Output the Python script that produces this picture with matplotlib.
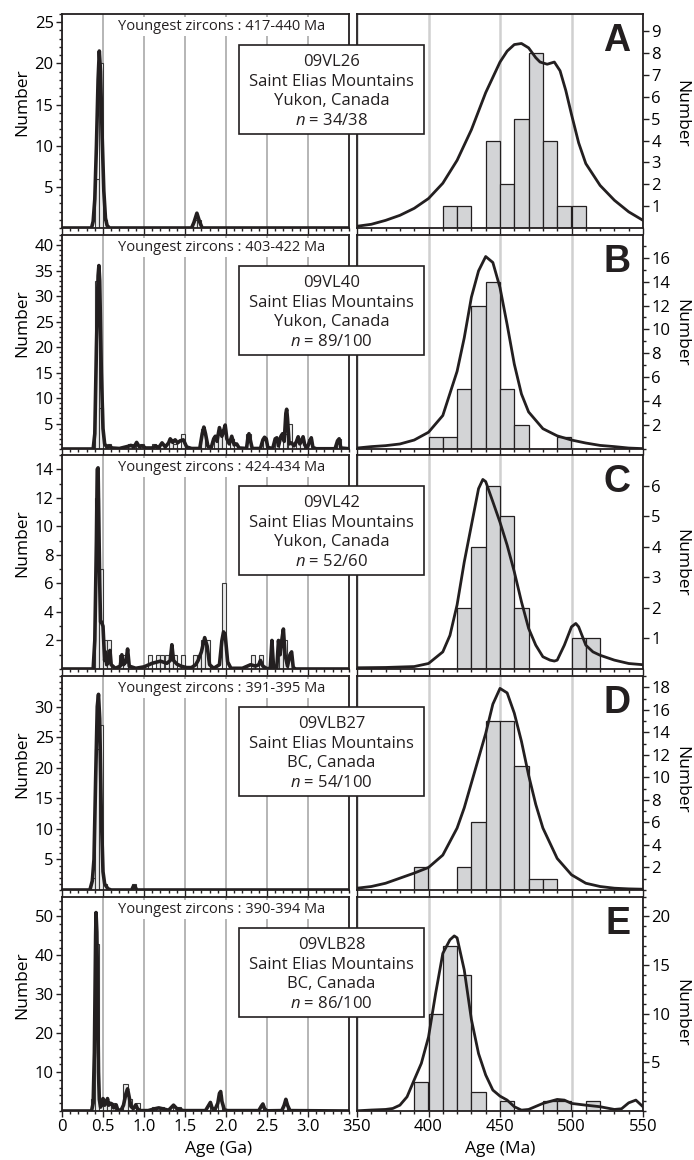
import matplotlib.pyplot as plt
from matplotlib.patches import Rectangle
from matplotlib.ticker import MultipleLocator, NullLocator

plt.rcParams['font.family'] = 'Open Sans'
plt.rcParams['mathtext.fontset'] = 'custom'
plt.rcParams['mathtext.it'] = 'Open Sans:italic'
plt.rcParams['mathtext.rm'] = 'Open Sans'

## ---------------------------------------------------------------- sample info
samples = ['09VL26', '09VL40', '09VL42', '09VLB27', '09VLB28']
regions = ['Yukon, Canada', 'Yukon, Canada', 'Yukon, Canada', 'BC, Canada', 'BC, Canada']
n_used = ['34/38', '89/100', '52/60', '54/100', '86/100']
youngest = ['417-440', '403-422', '424-434', '391-395', '390-394']
letters = ['A', 'B', 'C', 'D', 'E']

## ---------------------------------------------------------------- left panels (Ga), 50 Ma bins
a_left_bins = [0.40, 0.45, 0.50, 1.60, 1.65]
a_left_counts = [6, 20, 1, 1, 1]
a_left_x = [0, 0.36, 0.38, 0.40, 0.42, 0.44, 0.455, 0.47, 0.49, 0.51, 0.53, 0.55, 0.58,
            1.58, 1.61, 1.645, 1.68, 1.71, 3.5]
a_left_y = [0, 0, 0.8, 3.5, 10, 18, 21.5, 19, 11, 4.5, 1.2, 0.3, 0,
            0, 0.7, 1.8, 0.7, 0, 0]

b_left_bins = [0.40, 0.45, 0.55, 0.80, 0.85, 0.95, 1.10, 1.20, 1.30, 1.35, 1.45, 1.70, 1.85,
               1.90, 1.95, 2.05, 2.25, 2.45, 2.60, 2.70, 2.75, 2.85, 2.90, 3.00, 3.35]
b_left_counts = [33, 8, 1, 1, 1, 1, 1, 1, 2, 1, 3, 4, 2, 3, 4, 2, 3, 2, 2, 3, 5, 2, 2, 2, 2]
b_left_x = [0, 0.38, 0.40, 0.42, 0.44, 0.45, 0.46, 0.48, 0.50, 0.52, 0.55, 0.58, 0.61, 0.70,
            0.80, 0.84, 0.88, 0.91, 0.94, 0.98, 1.02, 1.10, 1.14, 1.18, 1.22, 1.26, 1.30,
            1.32, 1.35, 1.38, 1.41, 1.44, 1.48, 1.52, 1.58, 1.68, 1.71, 1.73, 1.75, 1.78,
            1.82, 1.85, 1.87, 1.89, 1.92, 1.95, 1.97, 1.99, 2.01, 2.04, 2.07, 2.10, 2.13,
            2.16, 2.25, 2.27, 2.28, 2.30, 2.32, 2.42, 2.45, 2.47, 2.49, 2.51, 2.57, 2.60,
            2.62, 2.64, 2.67, 2.69, 2.71, 2.73, 2.74, 2.75, 2.77, 2.80, 2.83, 2.86, 2.88,
            2.90, 2.92, 2.94, 2.96, 2.99, 3.02, 3.04, 3.06, 3.10, 3.33, 3.36, 3.38, 3.40, 3.5]
b_left_y = [0, 0, 3, 20, 34, 36, 33, 15, 4, 1, 0.3, 0.6, 0.2, 0.1,
            0.5, 0.7, 0.4, 1.3, 0.5, 0.6, 0.2, 0.2, 0.6, 0.3, 1.2, 0.4, 1.2,
            2.0, 1.3, 1.8, 1.2, 1.6, 1.8, 0.4, 0.1, 0.1, 3.0, 4.3, 3.0, 0.5,
            0.3, 2.0, 2.5, 1.5, 4.2, 2.5, 3.5, 4.7, 2.0, 1.0, 2.5, 0.8, 1.0,
            0.2, 0.1, 2.5, 3.0, 1.5, 0.1, 0.1, 1.8, 2.3, 2.0, 0.3, 0.1, 2.0,
            2.2, 0.6, 2.5, 3.0, 1.5, 7.0, 7.8, 6.0, 1.0, 1.2, 0.6, 1.5, 2.4,
            1.0, 1.5, 2.4, 0.8, 0.2, 1.5, 2.2, 0.3, 0.05, 0.05, 1.6, 2.0, 0.2, 0.05]

c_left_bins = [0.40, 0.45, 0.50, 0.55, 0.70, 0.75, 1.05, 1.15, 1.20, 1.25, 1.30, 1.35, 1.45,
               1.60, 1.65, 1.70, 1.75, 1.95, 2.30, 2.40, 2.65, 2.70, 2.75]
c_left_counts = [12, 7, 2, 2, 1, 1, 1, 1, 1, 1, 1, 1, 1, 1, 1, 2, 2, 6, 1, 1, 2, 2, 1]
c_left_x = [0, 0.38, 0.40, 0.42, 0.43, 0.44, 0.45, 0.46, 0.47, 0.48, 0.50, 0.52, 0.53, 0.545,
            0.57, 0.585, 0.60, 0.65, 0.71, 0.73, 0.75, 0.78, 0.80, 0.82, 0.90, 1.00, 1.10,
            1.20, 1.28, 1.32, 1.34, 1.36, 1.40, 1.45, 1.52, 1.58, 1.63, 1.66, 1.70, 1.74,
            1.77, 1.80, 1.85, 1.92, 1.95, 1.97, 1.99, 2.02, 2.06, 2.20, 2.30, 2.36, 2.40,
            2.42, 2.45, 2.50, 2.54, 2.56, 2.58, 2.62, 2.64, 2.66, 2.68, 2.70, 2.72, 2.75,
            2.78, 2.80, 2.82, 2.85, 3.5]
c_left_y = [0, 0, 2, 9, 14, 14.1, 10, 6, 3.3, 3.3, 3.0, 0.6, 1.2, 0.3,
            0.5, 1.3, 0.3, 0.05, 0.2, 1.0, 0.3, 0.5, 1.4, 0.2, 0.05, 0.15, 0.4,
            0.55, 0.4, 0.6, 1.7, 0.6, 0.35, 0.2, 0.1, 0.1, 0.3, 0.6, 1.2, 2.2,
            1.6, 0.3, 0.05, 0.3, 2.0, 2.6, 2.4, 0.5, 0.05, 0.05, 0.3, 0.2, 0.3,
            0.6, 0.2, 0.02, 0.05, 2.0, 0.1, 0.1, 2.0, 1.0, 2.0, 2.8, 1.0, 0.2,
            1.0, 1.2, 0.1, 0, 0]

d_left_bins = [0.35, 0.40, 0.45, 0.50, 0.85]
d_left_counts = [2, 23, 27, 1, 1]
d_left_x = [0, 0.34, 0.37, 0.39, 0.41, 0.43, 0.445, 0.46, 0.48, 0.50, 0.52, 0.54, 0.56, 0.60,
            0.85, 0.87, 0.89, 0.91, 3.5]
d_left_y = [0, 0, 1.5, 5, 18, 30, 32, 28, 12, 3, 1, 0.6, 0.2, 0,
            0, 0.6, 0.6, 0, 0]

e_left_bins = [0.35, 0.40, 0.45, 0.50, 0.55, 0.60, 0.75, 0.80, 0.90, 1.10, 1.15, 1.20, 1.35,
               1.40, 1.80, 1.90, 2.40, 2.70]
e_left_counts = [3, 43, 3, 3, 2, 2, 7, 3, 2, 1, 1, 1, 1, 1, 1, 4, 1, 2]
e_left_x = [0, 0.36, 0.38, 0.395, 0.41, 0.415, 0.425, 0.435, 0.445, 0.455, 0.47, 0.49, 0.50,
            0.52, 0.54, 0.555, 0.57, 0.59, 0.61, 0.63, 0.66, 0.68, 0.72, 0.75, 0.78, 0.80,
            0.82, 0.84, 0.87, 0.90, 0.92, 0.95, 1.05, 1.12, 1.18, 1.24, 1.30, 1.36, 1.40,
            1.44, 1.48, 1.75, 1.79, 1.81, 1.83, 1.86, 1.90, 1.92, 1.935, 1.95, 1.98, 2.02,
            2.40, 2.43, 2.45, 2.47, 2.50, 2.68, 2.71, 2.73, 2.75, 2.78, 3.5]
e_left_y = [0, 0, 2, 15, 45, 51, 46, 30, 10, 3, 1, 2, 3.2,
            1.5, 2, 3.2, 1.5, 2.0, 1.8, 0.8, 1.6, 0.3, 0.2, 1.5, 4.5, 5.7,
            3.5, 1.2, 0.6, 1.6, 0.6, 0.1, 0.1, 0.5, 0.8, 0.5, 0.2, 1.5, 0.6,
            0.4, 0.1, 0.1, 1.5, 2.2, 0.8, 0.1, 2.0, 4.5, 5.0, 2.5, 0.3, 0.1,
            0.1, 1.2, 1.8, 0.6, 0.05, 0.1, 1.5, 3.0, 1.5, 0.1, 0]

## ---------------------------------------------------------------- right panels (Ma), 10 Ma bins
a_right_bins = [410, 420, 440, 450, 460, 470, 480, 490, 500]
a_right_counts = [1, 1, 4, 2, 5, 8, 4, 1, 1]
a_right_x = [350, 360, 370, 380, 390, 400, 410, 420, 430, 440, 450, 455, 460, 465, 470, 475,
             478, 483, 488, 492, 496, 500, 505, 510, 520, 530, 540, 550]
a_right_y = [0.08, 0.17, 0.35, 0.58, 0.9, 1.35, 2.05, 3.1, 4.5, 6.2, 7.6, 8.1, 8.4, 8.45,
             8.25, 7.8, 7.6, 7.5, 7.6, 7.2, 6.3, 5.2, 3.9, 2.95, 1.95, 1.27, 0.74, 0.35]

b_right_bins = [400, 410, 420, 430, 440, 450, 460, 490]
b_right_counts = [1, 1, 5, 12, 14, 5, 2, 1]
b_right_x = [350, 360, 370, 380, 390, 400, 410, 420, 425, 430, 435, 440, 445, 450, 455, 460,
             465, 470, 480, 490, 500, 510, 520, 530, 540, 550]
b_right_y = [0.08, 0.2, 0.28, 0.42, 0.75, 1.4, 2.8, 6.5, 9.3, 12.7, 14.9, 16.1, 15.6, 13.5,
             10.4, 7.1, 4.6, 3.1, 1.7, 1.1, 0.75, 0.5, 0.3, 0.2, 0.08, 0.03]

c_right_bins = [420, 430, 440, 450, 460, 500, 510]
c_right_counts = [2, 4, 6, 5, 2, 1, 1]
c_right_x = [350, 370, 390, 400, 410, 415, 420, 425, 430, 435, 438, 440, 445, 450, 455, 460,
             465, 470, 475, 480, 485, 488, 490, 495, 500, 503, 505, 510, 515, 520, 530, 540, 550]
c_right_y = [0.04, 0.05, 0.08, 0.18, 0.56, 1.1, 2.1, 3.5, 4.7, 5.9, 6.2, 6.13, 5.47, 4.8,
             4.05, 3.18, 2.2, 1.33, 0.78, 0.4, 0.29, 0.26, 0.29, 0.78, 1.38, 1.49, 1.38,
             0.78, 0.56, 0.45, 0.29, 0.18, 0.14]

d_right_bins = [390, 420, 430, 440, 450, 460, 470, 480]
d_right_counts = [2, 2, 6, 15, 15, 11, 1, 1]
d_right_x = [350, 360, 370, 380, 390, 400, 410, 420, 425, 430, 435, 440, 445, 450, 455, 460,
             465, 470, 475, 480, 490, 500, 510, 520, 530, 540, 550]
d_right_y = [0.16, 0.31, 0.6, 1.05, 1.5, 2.0, 3.1, 5.5, 7.3, 9.5, 11.7, 13.9, 16.5, 17.9,
             17.5, 15.7, 13.2, 10.2, 7.6, 5.5, 2.8, 1.35, 0.6, 0.31, 0.16, 0.1, 0.07]

e_right_bins = [390, 400, 410, 420, 430, 450, 480, 490, 510]
e_right_counts = [3, 10, 17, 14, 2, 1, 1, 1, 1]
e_right_x = [350, 360, 370, 375, 380, 385, 390, 395, 400, 405, 410, 415, 418, 420, 425, 430,
             435, 440, 445, 450, 455, 460, 465, 470, 480, 490, 495, 500, 510, 520, 530, 535,
             540, 545, 550]
e_right_y = [0.02, 0.1, 0.16, 0.26, 0.6, 1.46, 3.2, 4.9, 7.6, 12.1, 16.2, 17.6, 18.0, 17.8,
             14.5, 9.4, 5.9, 3.7, 2.15, 1.53, 1.12, 0.44, 0.09, 0.16, 0.78, 1.19, 1.12,
             0.78, 0.6, 0.44, 0.16, 0.23, 0.84, 1.12, 0.44]

left_bins = [a_left_bins, b_left_bins, c_left_bins, d_left_bins, e_left_bins]
left_counts = [a_left_counts, b_left_counts, c_left_counts, d_left_counts, e_left_counts]
left_x = [a_left_x, b_left_x, c_left_x, d_left_x, e_left_x]
left_y = [a_left_y, b_left_y, c_left_y, d_left_y, e_left_y]
right_bins = [a_right_bins, b_right_bins, c_right_bins, d_right_bins, e_right_bins]
right_counts = [a_right_counts, b_right_counts, c_right_counts, d_right_counts, e_right_counts]
right_x = [a_right_x, b_right_x, c_right_x, d_right_x, e_right_x]
right_y = [a_right_y, b_right_y, c_right_y, d_right_y, e_right_y]

## ---------------------------------------------------------------- axes settings
left_ylim = [26, 42, 15, 35, 55]
left_yticks = [[5, 10, 15, 20, 25], [5, 10, 15, 20, 25, 30, 35, 40], [2, 4, 6, 8, 10, 12, 14],
               [5, 10, 15, 20, 25, 30], [10, 20, 30, 40, 50]]
left_yminor = [1, 1, 1, 1, 2]
right_ylim = [9.8, 17.9, 7.0, 19.0, 22.0]
right_yticks = [[1, 2, 3, 4, 5, 6, 7, 8, 9], [2, 4, 6, 8, 10, 12, 14, 16], [1, 2, 3, 4, 5, 6],
                [2, 4, 6, 8, 10, 12, 14, 16, 18], [5, 10, 15, 20]]
right_yminor = [None, 1, None, 1, 1]
right_label_y = [0.535, 0.544, 0.498, 0.514, 0.458]

ga_ticks = [0, 0.5, 1.0, 1.5, 2.0, 2.5, 3.0]
ga_labels = ['0', '0.5', '1.0', '1.5', '2.0', '2.5', '3.0']
ma_ticks = [350, 400, 450, 500, 550]

INK = '#231f20'
W, H = 694, 1160
tops = [14, 235, 455, 676, 897]
ph = 214

fig = plt.figure(figsize=(W / 100, H / 100), dpi=100)


def px_axes(x0, y0, x1, y1):
    return fig.add_axes([x0 / W, 1 - y1 / H, (x1 - x0) / W, (y1 - y0) / H])


for i in range(5):
    top = tops[i]
    last = (i == 4)

    # ---- left: whole age range
    axl = px_axes(62, top, 349, top + ph)
    axl.bar(left_bins[i], left_counts[i], width=0.05, align='edge', facecolor='#ececec',
            edgecolor='#3a3a3a', linewidth=0.8, zorder=2)
    axl.plot(left_x[i], left_y[i], color=INK, linewidth=2.6, solid_joinstyle='round', zorder=3)
    axl.set_xlim(0, 3.5)
    axl.set_ylim(0, left_ylim[i])
    axl.set_xticks(ga_ticks)
    axl.set_xticklabels(ga_labels)
    axl.xaxis.set_minor_locator(MultipleLocator(0.1))
    axl.set_yticks(left_yticks[i])
    axl.yaxis.set_minor_locator(MultipleLocator(left_yminor[i]))
    axl.grid(axis='x', which='major', color='#b5b5b5', linewidth=1.4, zorder=0)
    axl.set_axisbelow(True)
    axl.tick_params(which='both', direction='out', top=False, right=False, labelsize=12,
                    labelbottom=last, width=1.0, color=INK, pad=2)
    axl.tick_params(which='major', length=4)
    axl.tick_params(which='minor', length=2)
    axl.set_ylabel('Number', fontsize=12.5)
    axl.yaxis.set_label_coords(-0.111, 0.59)
    for s in axl.spines.values():
        s.set_linewidth(1.3)
        s.set_color(INK)
    axl.text(0.556, 0.94, 'Youngest zircons : ' + youngest[i] + ' Ma', transform=axl.transAxes,
             ha='center', va='center', fontsize=10.5, color=INK, zorder=4,
             bbox=dict(facecolor='white', edgecolor='none', pad=1.5))
    if last:
        axl.set_xlabel('Age (Ga)', fontsize=12.5)
        axl.xaxis.set_label_coords(0.547, -0.14)

    # ---- right: 350-550 Ma zoom
    axr = px_axes(357, top, 643, top + ph)
    axr.bar(right_bins[i], right_counts[i], width=10, align='edge', facecolor='#d3d4d6',
            edgecolor=INK, linewidth=0.9, zorder=2)
    axr.plot(right_x[i], right_y[i], color=INK, linewidth=2.0, solid_joinstyle='round', zorder=3)
    axr.set_xlim(350, 550)
    axr.set_ylim(0, right_ylim[i])
    axr.set_xticks(ma_ticks)
    axr.xaxis.set_minor_locator(MultipleLocator(10))
    axr.set_yticks(right_yticks[i])
    if right_yminor[i]:
        axr.yaxis.set_minor_locator(MultipleLocator(right_yminor[i]))
    else:
        axr.yaxis.set_minor_locator(NullLocator())
    axr.yaxis.tick_right()
    axr.grid(axis='x', which='major', color='#d0d0d0', linewidth=1.8, zorder=0)
    axr.set_axisbelow(True)
    axr.tick_params(which='both', direction='out', top=False, left=False, labelsize=12,
                    labelbottom=last, width=1.0, color=INK, pad=2)
    axr.tick_params(which='major', length=4)
    axr.tick_params(which='minor', length=2)
    axr.yaxis.set_label_position('right')
    axr.set_ylabel('Number', fontsize=12.5, rotation=270)
    axr.yaxis.set_label_coords(1.105, right_label_y[i])
    axr.yaxis.label.set_verticalalignment('bottom')
    for s in axr.spines.values():
        s.set_linewidth(1.3)
        s.set_color(INK)
    axr.text(0.955, 0.875, letters[i], transform=axr.transAxes, ha='right', va='center',
             fontsize=27, fontweight='bold', family='Liberation Sans', color=INK, zorder=4)
    if last:
        axr.set_xlabel('Age (Ma)', fontsize=12.5)
        axr.xaxis.set_label_coords(0.5, -0.14)

    # ---- sample box across both panels
    box = Rectangle((239 / W, 1 - (top + 120) / H), 185 / W, 89 / H, transform=fig.transFigure,
                    facecolor='white', edgecolor=INK, linewidth=1.2, zorder=5)
    fig.add_artist(box)
    lines = [samples[i], 'Saint Elias Mountains', regions[i], '$n$ = ' + n_used[i]]
    for k, line in enumerate(lines):
        fig.text(331.5 / W, 1 - (top + 52 + 19.7 * k) / H, line, ha='center', va='baseline',
                 fontsize=12, color=INK, zorder=6)

fig.savefig('out.png', dpi=100)
